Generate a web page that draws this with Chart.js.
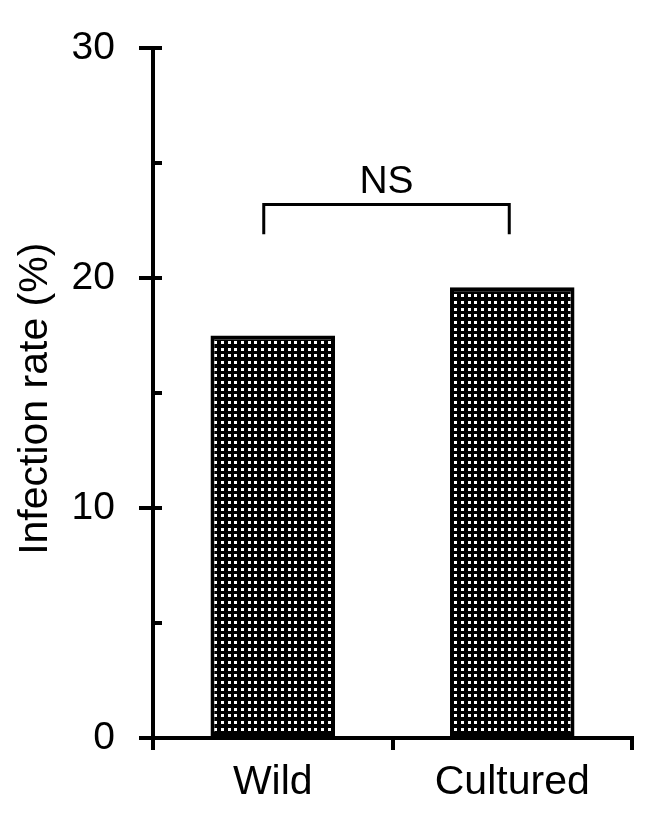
<!DOCTYPE html>
<html>
<head>
<meta charset="utf-8">
<script src="https://cdn.jsdelivr.net/npm/chart.js@4"></script>
<style>
  html, body { margin: 0; padding: 0; background: #fff; }
  #wrap { width: 658px; height: 832px; position: relative; }
</style>
</head>
<body>
<div id="wrap"><canvas id="bar-chart"></canvas></div>
<script>
const categories = ["Wild", "Cultured"];
const infectionRate = [17.5, 19.6];
const yTicks = [0, 5, 10, 15, 20, 25, 30];
const yLabels = [0, 10, 20, 30];
const sigLabel = "NS";
const yTitle = "Infection rate (%)";

const FONT = "'Liberation Sans', Arial, sans-serif";

// dotted fill like the original bars
function dotPattern() {
   const c = document.createElement('canvas');
   c.width = 20; c.height = 20;
   const g = c.getContext('2d');
   g.fillStyle = '#000';
   g.fillRect(0, 0, 20, 20);
   g.fillStyle = '#fff';
   [1, 8, 14].forEach(x => [1, 8, 14].forEach(y => g.fillRect(x, y, 3, 3)));
   return g.createPattern(c, 'repeat');
}

// inner ticks on the y axis, the axis title and the NS bracket
const extras = {
   id: 'extras',
   afterDraw(chart) {
      const ctx = chart.ctx;
      const y = chart.scales.y, x = chart.scales.x;
      const left = chart.chartArea.left;
      ctx.save();
      ctx.strokeStyle = '#000';
      ctx.lineWidth = 4;
      yTicks.forEach(v => {
         const py = y.getPixelForValue(v);
         ctx.beginPath();
         ctx.moveTo(left, py);
         ctx.lineTo(left + 9, py);
         ctx.stroke();
      });
      // axis title
      ctx.fillStyle = '#000';
      ctx.font = '41px ' + FONT;
      ctx.save();
      ctx.translate(47, y.getPixelForValue(14.75));
      ctx.rotate(-Math.PI / 2);
      ctx.textAlign = 'center';
      ctx.textBaseline = 'alphabetic';
      ctx.fillText(yTitle, 0, 0);
      ctx.restore();
      // bracket
      ctx.lineWidth = 3;
      const x1 = x.getPixelForValue(0) - 9;
      const x2 = x.getPixelForValue(1) - 3;
      const top = y.getPixelForValue(23.2);
      const bot = y.getPixelForValue(21.9);
      ctx.beginPath();
      ctx.moveTo(x1, bot);
      ctx.lineTo(x1, top);
      ctx.lineTo(x2, top);
      ctx.lineTo(x2, bot);
      ctx.stroke();
      ctx.font = '39px ' + FONT;
      ctx.textAlign = 'center';
      ctx.textBaseline = 'middle';
      ctx.fillText(sigLabel, (x1 + x2) / 2, y.getPixelForValue(24.15));
      ctx.restore();
   }
};

const ctx2 = document.getElementById("bar-chart");
const chart = new Chart(ctx2, {
   type: 'bar',
   data: {
      labels: categories,
      datasets: [{
         data: infectionRate,
         backgroundColor: dotPattern(),
         borderColor: '#000',
         borderWidth: 4,
         borderSkipped: false,
         barPercentage: 0.52,
         categoryPercentage: 1
      }]
   },
   options: {
      responsive: true,
      maintainAspectRatio: false,
      animation: false,
      layout: { padding: { top: 48, right: 26, left: 0, bottom: 0 } },
      plugins: {
         legend: { display: false },
         tooltip: { enabled: false }
      },
      scales: {
         x: {
            offset: true,
            grid: {
               offset: true,
               drawOnChartArea: false,
               tickLength: 12,
               color: '#000',
               lineWidth: 4
            },
            border: { color: '#000', width: 4 },
            ticks: {
               color: '#000',
               padding: 8,
               font: { family: FONT, size: 41 }
            },
            afterFit: s => { s.height = 94; }
         },
         y: {
            min: 0,
            max: 30,
            afterBuildTicks: s => { s.ticks = yTicks.map(v => ({ value: v })); },
            grid: {
               drawOnChartArea: false,
               tickLength: 14,
               color: c => (c.tick && yLabels.includes(c.tick.value)) ? '#000' : 'rgba(0,0,0,0)',
               lineWidth: 4
            },
            border: { color: '#000', width: 4 },
            ticks: {
               color: '#000',
               padding: 24,
               font: { family: FONT, size: 39 },
               callback: v => yLabels.includes(v) ? String(v) : ''
            },
            afterFit: s => { s.width = 153; }
         }
      }
   },
   plugins: [extras]
});
</script>
</body>
</html>
